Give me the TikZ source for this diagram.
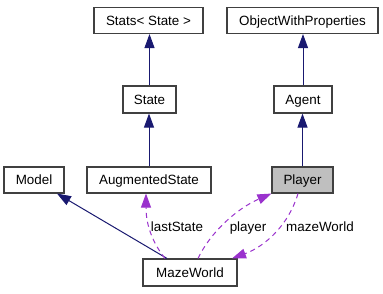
\documentclass[tikz,border=0pt]{standalone}
\usepackage{fontspec}
\setmainfont{Liberation Sans}
\usetikzlibrary{arrows.meta}
\definecolor{inherit}{HTML}{191970}
\definecolor{usage}{HTML}{9A32CD}
\definecolor{boxline}{HTML}{404040}
\definecolor{current}{HTML}{BFBFBF}
\begin{document}
\begin{tikzpicture}[x=1pt,y=-1pt,
  cls/.style={draw=boxline,line width=1.1pt,fill=white,inner sep=0pt,
    minimum height=26pt,text height=9.6pt,text depth=0pt,
    font=\fontsize{13.4pt}{15pt}\selectfont},
  lbl/.style={inner sep=0pt,text height=9.6pt,text depth=0pt,
    font=\fontsize{13.4pt}{15pt}\selectfont},
  isa/.style={draw=inherit,line width=1pt,
    -{Triangle[length=14pt,width=10pt,fill=inherit]}},
  uses/.style={draw=usage,line width=1pt,dash pattern=on 5pt off 4pt,
    -{Triangle[length=14pt,width=10pt,fill=usage]}}]
\useasboundingbox (0,0) rectangle (383,293);

% classes
\node[cls,minimum width=109pt] (stats) at (148.5,20.5) {Stats< State >};
\node[cls,minimum width=151pt] (owp) at (302.5,20.5) {ObjectWithProperties};
\node[cls,minimum width=53pt,minimum height=27pt] (state) at (149.5,99.5) {State};
\node[cls,minimum width=58pt,minimum height=27pt] (agent) at (303,99.5) {Agent};
\node[cls,minimum width=60pt] (model) at (34,180) {Model};
\node[cls,minimum width=124pt] (aug) at (149,180) {AugmentedState};
\node[cls,minimum width=61pt,fill=current] (player) at (302.5,180) {Player};
\node[cls,minimum width=94pt,minimum height=27pt] (maze) at (190,272.5) {MazeWorld};

% inheritance
\draw[isa] (state.north) -- (state.north |- stats.south);
\draw[isa] (aug.north) -- (aug.north |- state.south);
\draw[isa] (agent.north) -- (agent.north |- owp.south);
\draw[isa] (player.north) -- (player.north |- agent.south);
\draw[isa] ([xshift=-23pt]maze.north) -- ([xshift=23pt]model.south);

% usage relations
\draw[uses] ([xshift=-25pt]maze.north) .. controls (153,243) and (146,226) .. ([xshift=-3pt]aug.south);
\draw[uses] ([xshift=8pt]maze.north) .. controls (210,233) and (236,209) .. (player.south west);
\draw[uses] ([xshift=-4.5pt]player.south) .. controls (289,224) and (266,246) .. ([xshift=42pt]maze.north);

% labels
\node[lbl] (l1) at (177,227) {lastState};
\node[lbl] (l2) at (248,227) {player};
\node[lbl] (l3) at (320,227) {mazeWorld};
\end{tikzpicture}
\end{document}
